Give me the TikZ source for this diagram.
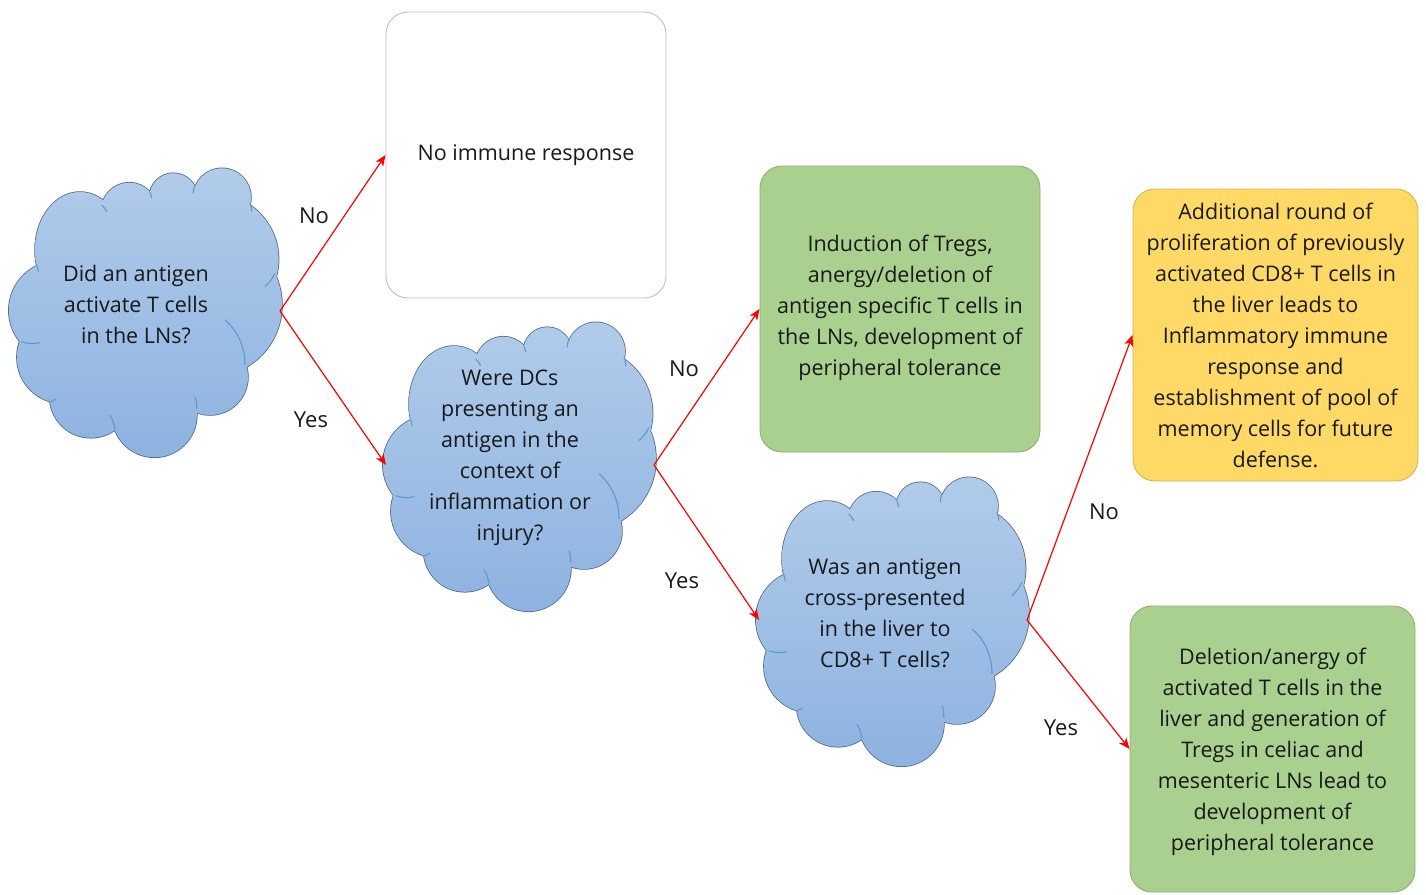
\documentclass[tikz,border=0pt]{standalone}
\usepackage{fontspec}
\setmainfont{Open Sans}
\usetikzlibrary{arrows.meta}
\definecolor{cloudtop}{HTML}{B2CCEA}
\definecolor{cloudbot}{HTML}{8DB2E0}
\definecolor{cloudline}{HTML}{4A6487}
\definecolor{cloudarc}{HTML}{5B9BD5}
\definecolor{greenfill}{HTML}{A9D08E}
\definecolor{greenline}{HTML}{8DB071}
\definecolor{yellowfill}{HTML}{FFD966}
\definecolor{yellowline}{HTML}{D9B44A}
\definecolor{boxline}{HTML}{BFBFBF}
\definecolor{arrowred}{HTML}{FF0000}
\tikzset{
  cloudedge/.style={draw=cloudline, line width=1.5pt},
  cloudshade/.style={top color=cloudtop, bottom color=cloudbot},
  txt/.style={align=center, font=\fontsize{21.5}{31}\selectfont, text=black!90},
  rbox/.style={rounded corners=22pt, line width=0.9pt, inner sep=0pt},
  flow/.style={draw=arrowred, line width=1.2pt,
    -{Stealth[length=11pt,width=9pt,inset=3pt]}},
  lbl/.style={font=\fontsize{22}{26}\selectfont, text=black!90},
  inarc/.style={draw=cloudarc, line width=1.1pt},
}
\newcommand\puffcircles{-16.7/-100.1/28.2, 27.4/-113.7/24.1, 76/-113.7/29,
  66.8/-51.7/65.8, 64/-6/72, 64/66/38, 8.5/103.9/42.4, -55.1/85.5/41.3,
  -82.7/46.2/46.4, -87.5/-0.6/49.7}
\newcommand\cuspgon{(-109.3,-45) -- (-44.3,-106) -- (4,-119.3) -- (49,-124.3)
  -- (104,-106) -- (130.7,-36) -- (100.7,55.7) -- (50.7,99.7) -- (-31,119)
  -- (-96,90.7) -- (-126,30.7) -- cycle}
% #1 = name prefix, #2 = centre
\newcommand\qcloud[2]{%
  \begin{scope}[shift={#2}]
    % outlines (inner half is covered by the fill below)
    \draw[cloudedge] (-66,-61) ellipse [x radius=45, y radius=58];
    \foreach \cx/\cy/\rr in \puffcircles {\draw[cloudedge] (\cx,\cy) circle [radius=\rr];}
    % fills, all with the same shading box
    \begin{scope}\clip \cuspgon; \shade[cloudshade] (-140,-150) rectangle (140,150);\end{scope}
    \begin{scope}\clip (-66,-61) ellipse [x radius=45, y radius=58];
      \shade[cloudshade] (-140,-150) rectangle (140,150);\end{scope}
    \foreach \cx/\cy/\rr in \puffcircles {%
      \begin{scope}\clip (\cx,\cy) circle [radius=\rr];
        \shade[cloudshade] (-140,-150) rectangle (140,150);\end{scope}}
    % inner arcs
    \draw[inarc] (-109.3,-46) -- (-107.7,-39);
    \draw[inarc] (-44.3,-106) to[bend left=10] (-39.3,-99.3);
    \draw[inarc] (4,-119.3) to[bend left=10] (5.7,-112.7);
    \draw[inarc] (49,-126) to[bend right=10] (47.3,-117.7);
    \draw[inarc] (104,-107.7) to[bend left=10] (105.7,-99.3);
    \draw[inarc] (129,-37.7) to[bend left=10] (119,-24.3);
    \draw[inarc] (79,9) .. controls (92,20) and (99,36) .. (99,54);
    \draw[inarc] (49,85.7) to[bend left=10] (50.7,97.3);
    \draw[inarc] (-36,104) to[bend left=10] (-31,119);
    \draw[inarc] (-96,91) -- (-90,88);
    \draw[inarc] (-124.3,30.7) to[bend right=15] (-106,31.7);
    \coordinate (#1e) at (134,0);
    \coordinate (#1w) at (-134,0);
  \end{scope}}
\begin{document}
\begin{tikzpicture}[x=1pt,y=-1pt]
\useasboundingbox (0,0) rectangle (1426,894);
% clouds
\qcloud{c1}{(146,311)}
\node[txt] (t1) at (136,304) {Did an antigen\\activate T cells\\in the LNs?};
\qcloud{c2}{(520,465)}
\node[txt] (t2) at (510,458) {Were DCs\\presenting an\\antigen in the\\context of\\inflammation or\\injury?};
\qcloud{c3}{(893,620)}
\node[txt] (t3) at (885,613) {Was an antigen\\cross-presented\\in the liver to\\CD8+ T cells?};
% boxes
\node[rbox, draw=boxline, fill=white, minimum width=280pt, minimum height=286pt] (b1) at (526,155) {};
\node[txt] (tb1) at (526,155) {No immune response};
\node[rbox, draw=greenline, fill=greenfill, minimum width=280pt, minimum height=286pt] (g1) at (900,309) {};
\node[txt] (tg1) at (900,308) {Induction of Tregs,\\anergy/deletion of\\antigen specific T cells in\\the LNs, development of\\peripheral tolerance};
\node[rbox, draw=yellowline, fill=yellowfill, minimum width=285pt, minimum height=292pt] (y1) at (1275.5,335) {};
\node[txt] (ty1) at (1275.5,335) {Additional round of\\proliferation of previously\\activated CD8+ T cells in\\the liver leads to\\Inflammatory immune\\response and\\establishment of pool of\\memory cells for future\\defense.};
\node[rbox, draw=greenline, fill=greenfill, minimum width=285pt, minimum height=286pt] (g2) at (1272.5,749) {};
\node[txt] (tg2) at (1272.5,752) {Deletion/anergy of\\activated T cells in the\\liver and generation of\\Tregs in celiac and\\mesenteric LNs lead to\\development of\\peripheral tolerance};
% connectors
\draw[flow] (c1e) -- (b1.west);
\draw[flow] (c1e) -- (c2w);
\draw[flow] (c2e) -- (g1.west);
\draw[flow] (c2e) -- (c3w);
\draw[flow] (c3e) -- (y1.west);
\draw[flow] (c3e) -- (g2.west);
% labels
\node[lbl] (l1) at (314,216) {No};
\node[lbl] (l2) at (311,420) {Yes};
\node[lbl] (l3) at (684,369) {No};
\node[lbl] (l4) at (682,581) {Yes};
\node[lbl] (l5) at (1104,512) {No};
\node[lbl] (l6) at (1061,728) {Yes};
\end{tikzpicture}
\end{document}
